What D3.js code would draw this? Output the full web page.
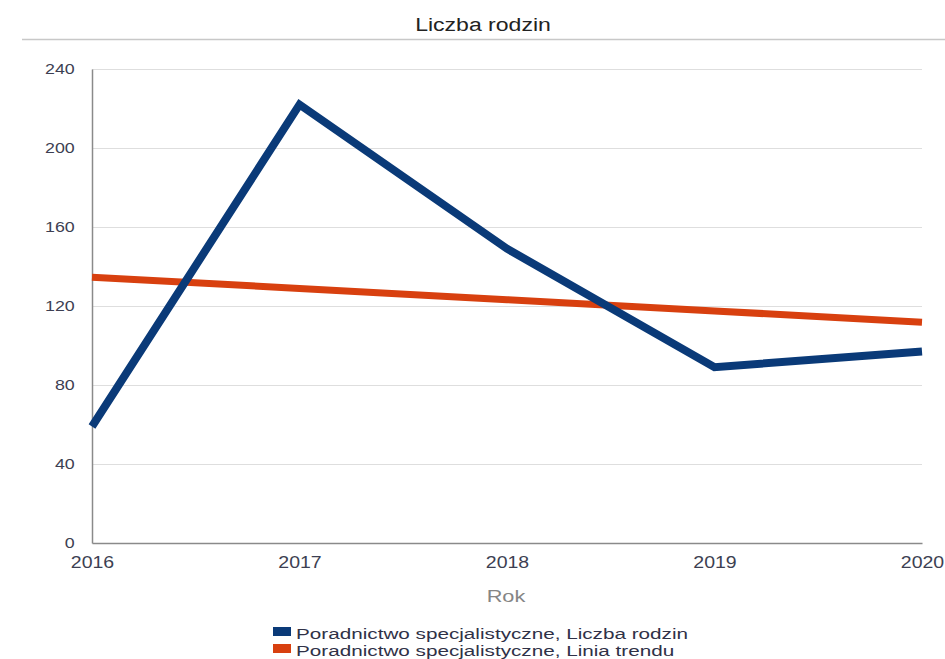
<!DOCTYPE html>
<html>
<head>
<meta charset="utf-8">
<script src="https://cdn.jsdelivr.net/npm/d3@7"></script>
<style>
  body { margin: 0; background: #fff; }
  svg { display: block; font-family: "Liberation Sans", Arial, sans-serif; }
</style>
</head>
<body>
<div id="chart"></div>
<script>
// Data
var years = [2016, 2017, 2018, 2019, 2020];
var familyCount = [59, 222, 149, 89, 97];
var trendLine = [134.6, 128.9, 123.2, 117.5, 111.8];
var yTicks = [0, 40, 80, 120, 160, 200, 240];
var seriesNames = [
  "Poradnictwo specjalistyczne, Liczba rodzin",
  "Poradnictwo specjalistyczne, Linia trendu"
];
var seriesColors = ["#0a3a78", "#d8400f"];

// Dimensions
var width = 945;
var height = 659;
var margin = { top: 69, right: 23, bottom: 116, left: 92 };
var textStretch = 1.28;

var svg = d3.select("#chart")
  .append("svg")
  .attr("width", width)
  .attr("height", height);

var x = d3.scaleLinear()
  .domain([2016, 2020])
  .range([margin.left, width - margin.right]);

var y = d3.scaleLinear()
  .domain([0, 240])
  .range([height - margin.bottom, margin.top]);

// title
var title = svg.append("g")
  .attr("transform", "translate(" + 483 + "," + 31 + ")");
title.append("text")
  .attr("text-anchor", "middle")
  .attr("transform", "scale(" + textStretch + ",1)")
  .style("font-size", "18px")
  .style("fill", "#222")
  .text("Liczba rodzin");

svg.append("line")
  .attr("x1", 22)
  .attr("x2", width)
  .attr("y1", 39.5)
  .attr("y2", 39.5)
  .style("stroke", "#c8c8c8")
  .style("stroke-width", 1.5);

// grid
svg.append("g")
  .attr("class", "grid")
  .selectAll("line")
  .data(yTicks.filter(function(d) { return d > 0; }))
  .enter()
  .append("line")
  .attr("x1", margin.left)
  .attr("x2", width - margin.right)
  .attr("y1", function(d) { return Math.round(y(d)) + 0.5; })
  .attr("y2", function(d) { return Math.round(y(d)) + 0.5; })
  .style("stroke", "#dedede")
  .style("stroke-width", 1);

// axes
var yAxis = svg.append("g")
  .attr("transform", "translate(" + margin.left + ",0)")
  .call(d3.axisLeft(y).tickValues(yTicks).tickSize(0).tickPadding(15));

yAxis.select(".domain").style("stroke", "#8a8a8a").style("stroke-width", 1.5);
yAxis.selectAll("text")
  .attr("transform", "scale(1.15,1)")
  .style("font-size", "15.5px")
  .style("fill", "#3d3f52");

var xAxis = svg.append("g")
  .attr("transform", "translate(0," + (height - margin.bottom) + ")")
  .call(d3.axisBottom(x).tickValues(years).tickFormat(d3.format("d")).tickSize(0).tickPadding(14));

xAxis.select(".domain").style("stroke", "#8a8a8a").style("stroke-width", 1.5);
xAxis.selectAll("text")
  .attr("transform", "scale(1.22,1)")
  .style("font-size", "16px")
  .style("fill", "#3d3f52");

// axis label
svg.append("g")
  .attr("transform", "translate(" + 506 + "," + 602 + ")")
  .append("text")
  .attr("text-anchor", "middle")
  .attr("transform", "scale(" + textStretch + ",1)")
  .style("font-size", "17px")
  .style("fill", "#858585")
  .text("Rok");

// lines
var line = d3.line()
  .x(function(d) { return x(d.year); })
  .y(function(d) { return y(d.value); });

var series = [familyCount, trendLine].map(function(values) {
  return values.map(function(v, i) { return { year: years[i], value: v }; });
});

svg.append("path")
  .datum(series[1])
  .attr("d", line)
  .style("fill", "none")
  .style("stroke", seriesColors[1])
  .style("stroke-width", 7);

svg.append("path")
  .datum(series[0])
  .attr("d", line)
  .style("fill", "none")
  .style("stroke", seriesColors[0])
  .style("stroke-width", 8)
  .style("stroke-linejoin", "miter");

// legend
var legend = svg.append("g")
  .attr("transform", "translate(273,627)");

var item = legend.selectAll(".legend-item")
  .data(seriesNames)
  .enter()
  .append("g")
  .attr("class", "legend-item")
  .attr("transform", function(d, i) { return "translate(0," + i * 17 + ")"; });

item.append("rect")
  .attr("width", 18)
  .attr("height", 9)
  .style("fill", function(d, i) { return seriesColors[i]; });

item.append("g")
  .attr("transform", "translate(23,12)")
  .append("text")
  .attr("transform", "scale(1.38,1)")
  .style("font-size", "15px")
  .style("fill", "#2f3147")
  .text(function(d) { return d; });
</script>
</body>
</html>
